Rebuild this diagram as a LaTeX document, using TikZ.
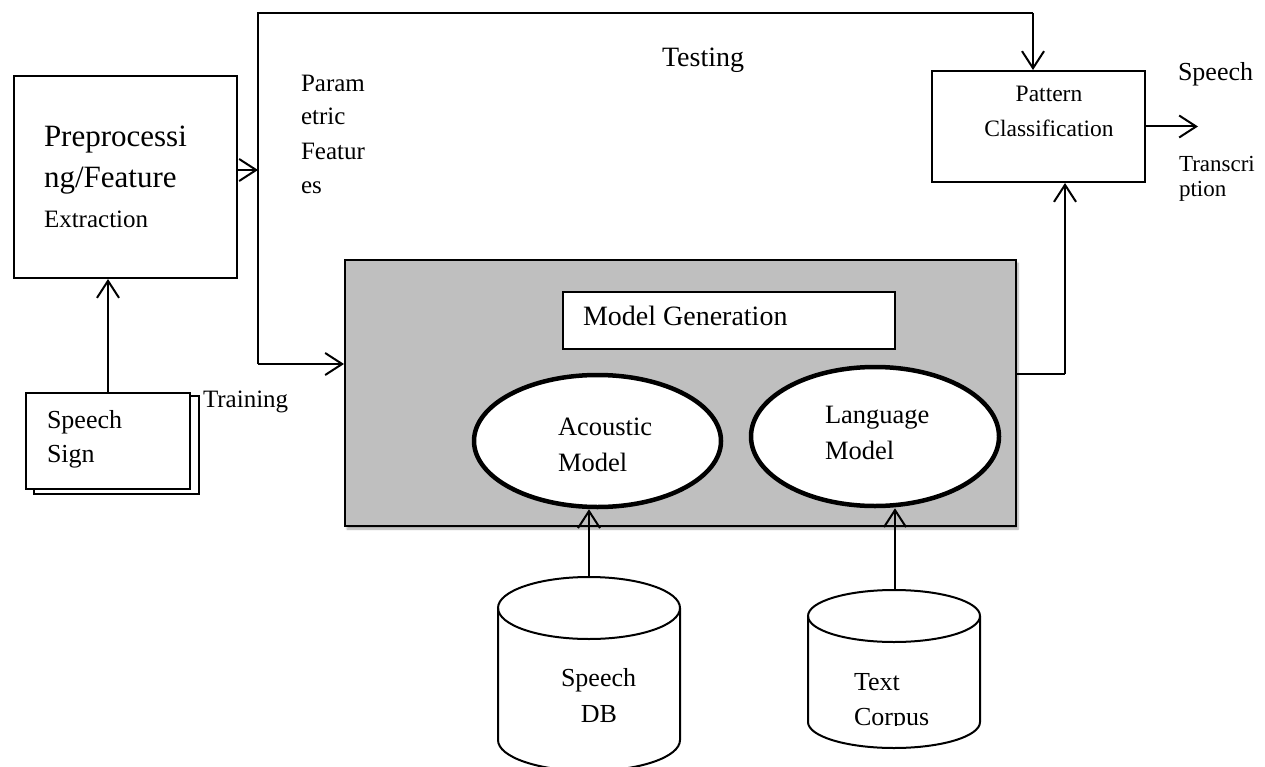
\documentclass[tikz,border=0pt]{standalone}
\usepackage{fontspec}
\setmainfont{Liberation Serif}
\usetikzlibrary{arrows.meta,shapes.geometric,shadows.blur}
\newcommand\fsz[1]{\fontsize{#1}{#1}\selectfont}
\begin{document}
\begin{tikzpicture}[x=1pt,y=-1pt,line width=2pt,
  arr/.style={-{Straight Barb[length=17pt,width=22pt,line width=2pt]}},
  box/.style={draw,rectangle,inner sep=0pt,fill=white},
  oval/.style={draw,ellipse,inner sep=0pt,fill=white,line width=4.5pt},
  lbl/.style={anchor=base west,inner sep=0pt},
  clbl/.style={anchor=base,inner sep=0pt}]
\useasboundingbox (0,0) rectangle (1265,767);

% blocks
\node[box,minimum width=223pt,minimum height=202pt] (pre) at (125.5,177) {};
\node[box,minimum width=213pt,minimum height=111pt] (pat) at (1038.5,126.5) {};
\node[draw,rectangle,inner sep=0pt,fill={rgb,255:red,191;green,191;blue,191},
      minimum width=671pt,minimum height=266pt,
      blur shadow={shadow xshift=2pt,shadow yshift=-3pt,shadow blur steps=6,shadow opacity=35}]
      (grey) at (680.5,393) {};
\node[box,minimum width=332pt,minimum height=57pt] (gen) at (729,320.5) {};
\node[oval,minimum width=247pt,minimum height=132pt] (ac) at (597.5,441) {};
\node[oval,minimum width=248pt,minimum height=139pt] (lm) at (875,436.5) {};

% stacked speech signal sheets
\node[box,minimum width=165pt,minimum height=98pt] (sigback) at (116.5,445) {};
\node[box,minimum width=164pt,minimum height=96pt] (sig) at (108,441) {};

% databases
\draw (498,608) -- (498,740) arc[start angle=180,end angle=360,x radius=91pt,y radius=31pt] -- (680,608);
\draw (589,608) ellipse [x radius=91pt,y radius=31pt];
\coordinate (db) at (589,577);
\draw (808,616) -- (808,722) arc[start angle=180,end angle=360,x radius=86pt,y radius=26pt] -- (980,616);
\draw (894,616) ellipse [x radius=86pt,y radius=26pt];
\coordinate (corp) at (895,590);

% routing points
\coordinate (topL) at (258,13);
\coordinate (topR) at (1033,13);
\coordinate (split) at (258,170);
\coordinate (trainC) at (258,364);
\coordinate (outC) at (1065,374);

% connectors
\draw[arr] (pre.east |- split) -- (split);
\draw (trainC) -- (topL) -- (topR);
\draw[arr] (topR) -- (topR |- pat.north);
\draw[arr] (trainC) -- (trainC -| grey.west);
\draw (grey.east |- outC) -- (outC);
\draw[arr] (outC) -- (outC |- pat.south);
\draw[arr] (pat.east) -- ++(52,0) coordinate (outT);
\draw[arr] (sig.north) -- (sig.north |- pre.south);
\draw[arr] (db) -- (db |- ac.south);
\draw[arr] (corp) -- (corp |- lm.south);

% texts
\node[lbl,font=\fsz{31}] at (43,147) {Preprocessi};
\node[lbl,font=\fsz{31}] at (43,188) {ng/Feature};
\node[lbl,font=\fsz{25}] at (43,228) {Extraction};

\node[lbl,font=\fsz{25}] at (300,92) {Param};
\node[lbl,font=\fsz{25}] at (300,125) {etric};
\node[lbl,font=\fsz{25}] at (300,160) {Featur};
\node[lbl,font=\fsz{25}] at (300,194) {es};

\node[lbl,font=\fsz{28}] at (661,67) {Testing};

\node[clbl,font=\fsz{23.5}] at (1049,102) {Pattern};
\node[clbl,font=\fsz{23.5}] at (1049,137) {Classification};

\node[lbl,font=\fsz{26}] at (1177,81) {Speech};
\node[lbl,font=\fsz{23}] at (1178,172) {Transcri};
\node[lbl,font=\fsz{23}] at (1178,197) {ption};

\node[lbl,font=\fsz{28}] at (582,325) {Model Generation};
\node[lbl,font=\fsz{26.5}] at (557,435) {Acoustic};
\node[lbl,font=\fsz{26.5}] at (557,471) {Model};
\node[lbl,font=\fsz{26.5}] at (824,423) {Language};
\node[lbl,font=\fsz{26.5}] at (824,459) {Model};

\node[lbl,font=\fsz{26}] at (46,428) {Speech};
\node[lbl,font=\fsz{26}] at (46,462) {Sign};
\node[lbl,font=\fsz{25}] at (202,407) {Training};

\node[lbl,font=\fsz{26}] at (560,686) {Speech};
\node[clbl,font=\fsz{26}] at (599,722) {DB};
\node[lbl,font=\fsz{26}] at (853,690) {Text};
\begin{scope}
  \clip (820,700) rectangle (970,725);
  \node[lbl,font=\fsz{26}] at (853,725) {Corpus};
\end{scope}
\end{tikzpicture}
\end{document}
